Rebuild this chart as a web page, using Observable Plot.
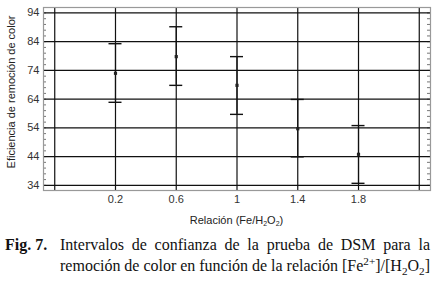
<!DOCTYPE html>
<html>
<head>
<meta charset="utf-8">
<script src="https://cdn.jsdelivr.net/npm/d3@7"></script>
<script src="https://cdn.jsdelivr.net/npm/@observablehq/plot@0.6"></script>
<style>
  html, body { margin: 0; padding: 0; background: #fff; }
  #chart svg { display: block; }
  .cap { font-family: "Liberation Serif", "Times New Roman", serif; font-size: 16px; color: #111;
         display: flex; margin: 4px 8px 0 5px; line-height: 21px; }
  .cap .fig { font-weight: bold; width: 55px; flex: none; }
  .cap .body { flex: 1; }
  .cap .line { text-align: justify; text-align-last: justify; white-space: nowrap; }
  sub, sup { font-size: 70%; line-height: 0; }
</style>
</head>
<body>
<div id="chart"></div>
<div class="cap">
  <div class="fig">Fig. 7.</div>
  <div class="body">
    <div class="line">Intervalos de confianza de la prueba de DSM para la</div>
    <div class="line" style="word-spacing:-1.5px">remoción de color en función de la relación [Fe<sup>2+</sup>]/[H<sub>2</sub>O<sub>2</sub>]</div>
  </div>
</div>
<script>
// Data
const ratios = [0.2, 0.6, 1.0, 1.4, 1.8];
const means  = [73.0, 78.8, 68.8, 53.7, 44.8];
const lowers = [62.9, 68.8, 58.7, 43.9, 34.7];
const uppers = [83.3, 89.2, 78.8, 63.9, 54.8];
const xGrid = [-0.2, 0.2, 0.6, 1.0, 1.4, 1.8, 2.2];
const xTickLabels = ["0.2", "0.6", "1", "1.4", "1.8"];
const yTicks = [34, 44, 54, 64, 74, 84, 94];
const yMinor = d3.range(34, 95, 2);

const rows = ratios.map((r, i) => ({x: r, mean: means[i], lo: lowers[i], hi: uppers[i]}));

const xDomain = [-0.274, 2.274];
const yDomain = [32.2, 95.9];
const W = 438, H = 230, mL = 43, mR = 8, mT = 7, mB = 40;
const pxPerX = (W - mL - mR) / (xDomain[1] - xDomain[0]);
const tickLen = 3 / pxPerX;
const capHalf = 6.5 / pxPerX;

const plot = Plot.plot({
  width: W, height: H,
  marginLeft: mL, marginRight: mR, marginTop: mT, marginBottom: mB,
  style: {fontFamily: "'Liberation Sans', Arial, sans-serif", fontSize: "11px", color: "#333", background: "#fff"},
  x: {domain: xDomain},
  y: {domain: yDomain},
  marks: [
    // minor ticks left & right
    Plot.ruleY(yMinor, {y: d => d, x1: xDomain[0], x2: xDomain[0] + tickLen, stroke: "#777", strokeWidth: 1}),
    Plot.ruleY(yMinor, {y: d => d, x1: xDomain[1] - tickLen, x2: xDomain[1], stroke: "#777", strokeWidth: 1}),
    // grid
    Plot.ruleY(yTicks, {stroke: "#111", strokeWidth: 1.2}),
    Plot.ruleX(xGrid, {stroke: "#111", strokeWidth: 1.2}),
    Plot.frame({stroke: "#999", strokeWidth: 1.2}),
    // error bars
    Plot.ruleX(rows, {x: "x", y1: "lo", y2: "hi", stroke: "#111", strokeWidth: 1.2}),
    Plot.ruleY(rows, {y: "lo", x1: d => d.x - capHalf, x2: d => d.x + capHalf, stroke: "#111", strokeWidth: 1.4}),
    Plot.ruleY(rows, {y: "hi", x1: d => d.x - capHalf, x2: d => d.x + capHalf, stroke: "#111", strokeWidth: 1.4}),
    Plot.dot(rows, {x: "x", y: "mean", symbol: "square", r: 1.8, fill: "#222", stroke: "none"}),
    // axes
    Plot.axisX({ticks: ratios, tickFormat: (d, i) => xTickLabels[i], tickSize: 0, tickPadding: 5, label: null}),
    Plot.axisY({ticks: yTicks, tickSize: 0, tickPadding: 4, label: null})
  ]
});

const svg = d3.select(plot);
svg.append("text")
  .attr("x", mL + (W - mL - mR) / 2).attr("y", 221)
  .attr("text-anchor", "middle").attr("dominant-baseline", "middle")
  .attr("fill", "#222").attr("font-size", 11)
  .call(t => {
    t.append("tspan").text("Relación (Fe/H");
    t.append("tspan").attr("font-size", 7).attr("dy", 3).text("2");
    t.append("tspan").attr("dy", -3).text("O");
    t.append("tspan").attr("font-size", 7).attr("dy", 3).text("2");
    t.append("tspan").attr("dy", -3).text(")");
  });
svg.append("text")
  .attr("transform", "translate(12.5,92) rotate(-90)")
  .attr("text-anchor", "middle").attr("dominant-baseline", "middle")
  .attr("fill", "#222").attr("font-size", 11)
  .text("Eficiencia de remoción de color");

document.getElementById("chart").appendChild(plot);
</script>
</body>
</html>
